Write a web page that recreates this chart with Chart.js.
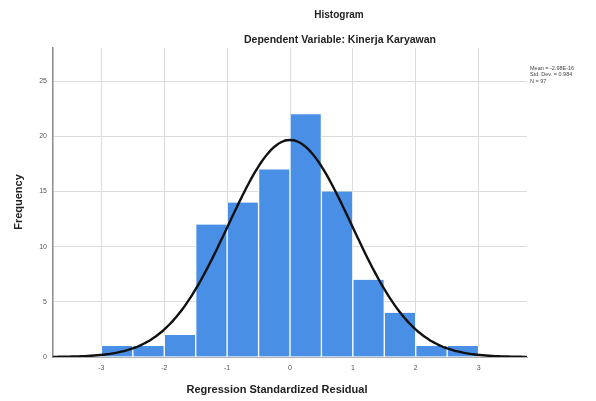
<!DOCTYPE html>
<html>
<head>
<meta charset="utf-8">
<script src="https://cdn.jsdelivr.net/npm/chart.js@4/dist/chart.umd.min.js"></script>
<style>
  html, body { margin: 0; padding: 0; background: #ffffff; }
  #wrap { width: 596px; height: 401px; }
</style>
</head>
<body>
<div id="wrap"><canvas id="c" width="596" height="401"></canvas></div>
<script>
// ---- data ----
const binStarts = [-3.0, -2.5, -2.0, -1.5, -1.0, -0.5, 0.0, 0.5, 1.0, 1.5, 2.0, 2.5];
const frequencies = [1, 1, 2, 12, 14, 17, 22, 15, 7, 4, 1, 1];
const binWidth = 0.5;
const xTicks = [-3, -2, -1, 0, 1, 2, 3];
const yTicks = [0, 5, 10, 15, 20, 25];
const statMean = -2.98e-16;
const statStdDev = 0.984;
const statN = 97;
const statLines = ["Mean = -2.98E-16", "Std. Dev. = 0.984", "N = 97"];
const titleText = "Histogram";
const subtitleText = "Dependent Variable: Kinerja Karyawan";
const xTitle = "Regression Standardized Residual";
const yTitle = "Frequency";

// fitted normal curve defined by the stated Mean / Std. Dev. / N
const curveXs = [];
for (let i = 0; i <= 150; i++) curveXs.push(-3.77 + i * (7.54 / 150));
const curvePoints = curveXs.map(x => ({
  x: x,
  y: statN * binWidth * Math.exp(-0.5 * Math.pow((x - statMean) / statStdDev, 2)) / (statStdDev * Math.sqrt(2 * Math.PI))
}));
const barPoints = binStarts.map((s, i) => ({ x: s + binWidth / 2, y: frequencies[i] }));

const textPlugin = {
  id: 'texts',
  afterDraw(chart) {
    const ctx = chart.ctx;
    ctx.save();
    ctx.fillStyle = '#222';
    ctx.textAlign = 'center';
    ctx.textBaseline = 'middle';
    ctx.font = 'bold 10px "Liberation Sans", Arial, sans-serif';
    ctx.fillText(titleText, 339, 15);
    ctx.font = 'bold 10.5px "Liberation Sans", Arial, sans-serif';
    ctx.fillText(subtitleText, 340, 40);
    ctx.font = 'bold 11px "Liberation Sans", Arial, sans-serif';
    ctx.fillText(xTitle, 277, 390);
    ctx.save();
    ctx.translate(19, 202);
    ctx.rotate(-Math.PI / 2);
    ctx.fillText(yTitle, 0, 0);
    ctx.restore();
    ctx.textAlign = 'left';
    ctx.font = '5.5px "Liberation Sans", Arial, sans-serif';
    ctx.fillStyle = '#444';
    statLines.forEach((t, i) => ctx.fillText(t, 530, 68 + i * 6.5));
    ctx.restore();
  }
};

new Chart(document.getElementById('c'), {
  type: 'bar',
  data: {
    datasets: [
      {
        type: 'line',
        data: curvePoints,
        borderColor: '#111111',
        borderWidth: 2.4,
        borderJoinStyle: 'round',
        borderCapStyle: 'round',
        pointRadius: 0,
        tension: 0.3,
        cubicInterpolationMode: 'monotone',
        fill: false,
        order: 0
      },
      {
        type: 'bar',
        data: barPoints,
        backgroundColor: '#4a8fe6',
        borderColor: '#ffffff',
        borderWidth: { left: 1, right: 1, top: 0, bottom: 0 },
        borderSkipped: false,
        barPercentage: 1.0,
        categoryPercentage: 1.0,
        grouped: false,
        order: 1
      }
    ]
  },
  options: {
    responsive: false,
    animation: false,
    events: [],
    layout: { padding: { top: 48, right: 69, left: 0, bottom: 0 } },
    plugins: { legend: { display: false }, tooltip: { enabled: false }, title: { display: false } },
    scales: {
      x: {
        type: 'linear',
        min: -3.77,
        max: 3.77,
        offset: false,
        afterBuildTicks(scale) { scale.ticks = xTicks.map(v => ({ value: v })); },
        afterFit(scale) { scale.height = 44; },
        grid: { color: '#dcdcdc', lineWidth: 1, drawTicks: false, offset: false },
        border: { display: true, color: '#b0b0b0', width: 1 },
        ticks: { font: { size: 7, family: '"Liberation Sans", Arial, sans-serif' }, color: '#555', padding: 7, maxRotation: 0 }
      },
      y: {
        type: 'linear',
        min: 0,
        max: 28,
        afterBuildTicks(scale) { scale.ticks = yTicks.map(v => ({ value: v })); },
        afterFit(scale) { scale.width = 53; },
        grid: { color: '#dcdcdc', lineWidth: 1, drawTicks: false },
        border: { display: true, color: '#8a8a8a', width: 1.5 },
        ticks: { font: { size: 7, family: '"Liberation Sans", Arial, sans-serif' }, color: '#555', padding: 6 }
      }
    }
  },
  plugins: [textPlugin]
});
</script>
</body>
</html>
